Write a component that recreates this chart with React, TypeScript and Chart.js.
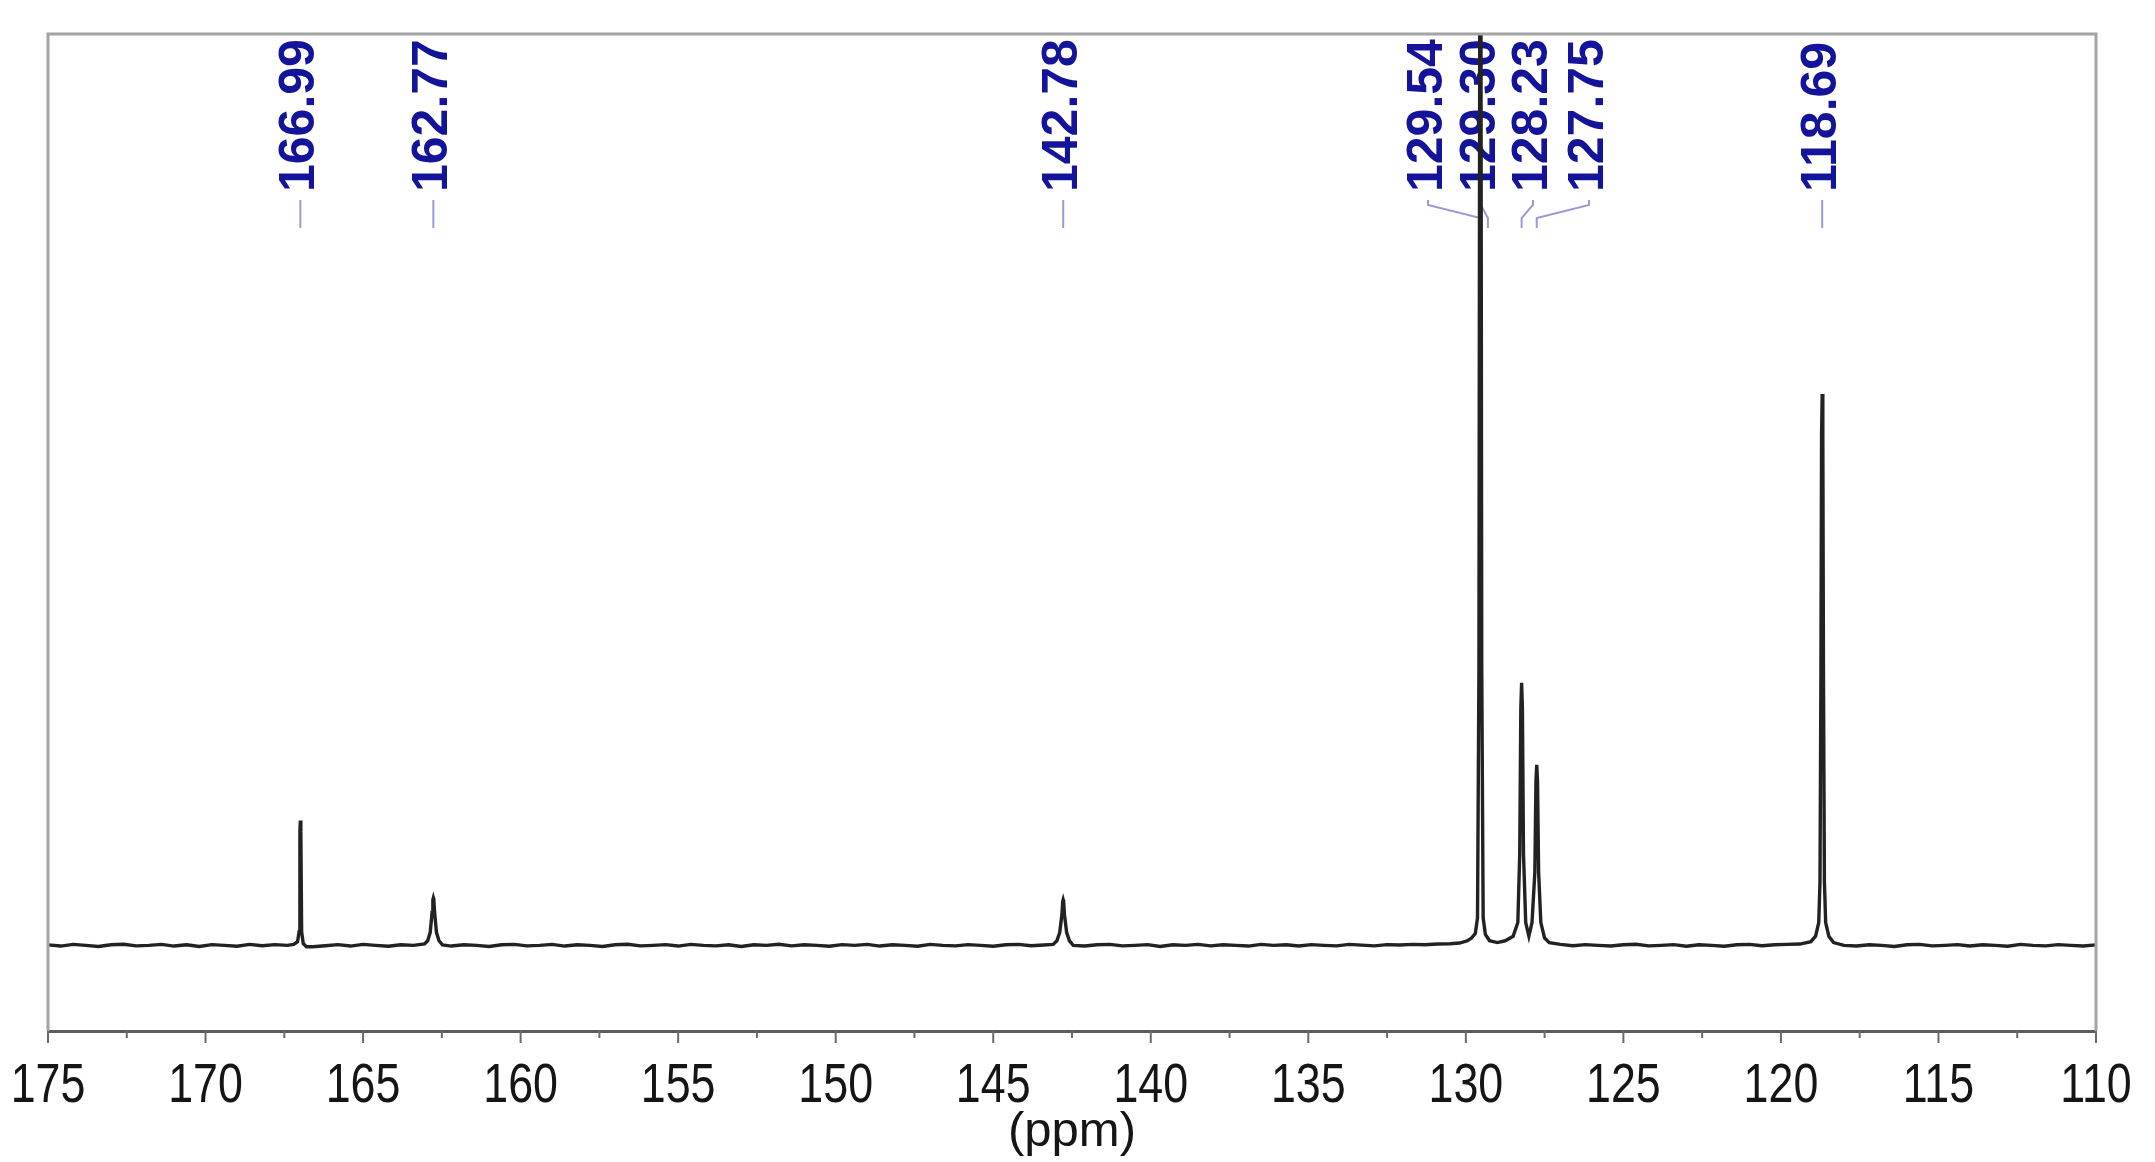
import React, { useEffect, useRef } from "react";
import { Chart, registerables } from "chart.js";

Chart.register(...registerables);

// ---- Data (ppm, intensity) ----
const baselinePoints: [number, number][] = [
  [175.0, 0.05], [174.6, -0.08], [174.2, 0.1], [173.8, 0.0], [173.4, -0.12], [173.0, 0.06],
  [172.6, 0.12], [172.2, -0.06], [171.8, 0.0], [171.4, 0.1], [171.0, -0.08], [170.6, 0.06],
  [170.2, -0.12], [169.8, 0.08], [169.4, 0.0], [169.0, -0.1], [168.6, 0.1], [168.2, -0.04],
  [167.8, 0.08], [167.4, 0.0],
  [166.6, -0.15], [166.2, -0.05], [165.8, 0.08], [165.4, -0.08], [165.0, 0.1], [164.6, 0.0],
  [164.2, -0.1], [163.8, 0.06], [163.4, 0.0],
  [162.2, -0.08], [161.8, 0.06], [161.4, 0.0], [161.0, -0.12], [160.6, 0.06], [160.2, 0.1],
  [159.8, -0.06], [159.4, 0.0], [159.0, 0.1], [158.6, -0.08], [158.2, 0.06], [157.8, 0.0],
  [157.4, -0.12], [157.0, 0.06], [156.6, 0.12], [156.2, -0.06], [155.8, 0.0], [155.4, 0.08],
  [155.0, -0.08], [154.6, 0.1], [154.2, 0.0], [153.8, -0.06], [153.4, 0.06], [153.0, -0.12],
  [152.6, 0.06], [152.2, 0.0], [151.8, 0.12], [151.4, -0.06], [151.0, 0.06], [150.6, 0.0],
  [150.2, -0.1], [149.8, 0.08], [149.4, 0.0], [149.0, 0.1], [148.6, -0.08], [148.2, 0.06],
  [147.8, 0.0], [147.4, -0.1], [147.0, 0.1], [146.6, 0.0], [146.2, -0.06], [145.8, 0.08],
  [145.4, 0.0], [145.0, -0.1], [144.6, 0.06], [144.2, 0.1], [143.8, -0.04], [143.4, 0.04],
  [142.1, -0.08], [141.7, 0.06], [141.3, 0.1], [140.9, -0.06], [140.5, 0.0], [140.1, 0.08],
  [139.7, -0.12], [139.3, 0.06], [138.9, 0.0], [138.5, 0.1], [138.1, -0.06], [137.7, 0.06],
  [137.3, 0.0], [136.9, -0.08], [136.5, 0.1], [136.1, 0.0], [135.7, 0.06], [135.3, -0.08],
  [134.9, 0.08], [134.5, 0.0], [134.1, -0.06], [133.7, 0.1], [133.3, 0.02], [132.9, -0.06],
  [132.5, 0.08], [132.1, 0.04], [131.7, 0.1], [131.3, 0.06], [130.9, 0.14], [130.5, 0.18],
  [130.2, 0.25],
  [127.0, 0.1], [126.6, -0.04], [126.2, 0.08], [125.8, 0.0], [125.4, -0.08], [125.0, 0.06],
  [124.6, 0.12], [124.2, -0.06], [123.8, 0.0], [123.4, 0.08], [123.0, -0.1], [122.6, 0.06],
  [122.2, 0.0], [121.8, -0.1], [121.4, 0.06], [121.0, 0.1], [120.6, -0.04], [120.2, 0.06],
  [119.8, 0.1], [119.4, 0.14],
  [118.0, 0.0], [117.6, -0.08], [117.2, 0.06], [116.8, 0.0], [116.4, -0.12], [116.0, 0.06],
  [115.6, 0.1], [115.2, -0.06], [114.8, 0.0], [114.4, 0.08], [114.0, -0.08], [113.6, 0.06],
  [113.2, 0.0], [112.8, -0.1], [112.4, 0.1], [112.0, 0.0], [111.6, -0.06], [111.2, 0.08],
  [110.8, 0.0], [110.4, -0.08], [110.0, 0.05],
];

const peak16699: [number, number][] = [
  [167.2, 0.1], [167.08, 0.4], [167.03, 1.5], [167.005, 12.5], [166.99, 13.7], [166.975, 12.5],
  [166.95, 1.5], [166.9, 0.2], [166.8, -0.15],
];
const peak16277: [number, number][] = [
  [163.05, 0.15], [162.95, 0.5], [162.87, 1.4], [162.81, 3.6], [162.785, 5.0], [162.77, 5.2],
  [162.755, 5.0], [162.73, 3.6], [162.67, 1.4], [162.59, 0.5], [162.48, 0.05],
];
const peak14278: [number, number][] = [
  [143.1, 0.1], [142.98, 0.5], [142.89, 1.4], [142.82, 3.4], [142.795, 4.8], [142.78, 5.0],
  [142.765, 4.8], [142.74, 3.4], [142.67, 1.4], [142.58, 0.5], [142.46, 0.0],
];
const peakCluster: [number, number][] = [
  [129.95, 0.5], [129.82, 0.8], [129.7, 1.3], [129.63, 3], [129.585, 30], [129.56, 100],
  [129.54, 115], [129.52, 100], [129.495, 30], [129.45, 3], [129.38, 1.2], [129.25, 0.5],
  [129.0, 0.3], [128.75, 0.5], [128.5, 1.0], [128.35, 2.5], [128.29, 10], [128.255, 26],
  [128.23, 28.8], [128.205, 26], [128.17, 10], [128.1, 2.5], [128.0, 1.0], [127.9, 2.5],
  [127.81, 8], [127.775, 18], [127.75, 19.8], [127.725, 18], [127.69, 8], [127.62, 2.5],
  [127.5, 0.8], [127.35, 0.3],
];
const peak11869: [number, number][] = [
  [119.05, 0.4], [118.9, 1.0], [118.8, 2.5], [118.76, 7], [118.73, 30], [118.71, 56],
  [118.69, 60.5], [118.67, 56], [118.65, 30], [118.62, 7], [118.58, 2.5], [118.48, 1.0],
  [118.33, 0.3],
];

const peakLabels = ["166.99", "162.77", "142.78", "129.54", "129.30", "128.23", "127.75", "118.69"];
const peakPpm = [166.99, 162.77, 142.78, 129.54, 129.3, 128.23, 127.75, 118.69];
const labelPpm = [166.99, 162.77, 142.78, 131.2, 129.52, 127.87, 126.09, 118.69];

const majorTicks = [175, 170, 165, 160, 155, 150, 145, 140, 135, 130, 125, 120, 115, 110];
const minorTicks = [172.5, 167.5, 162.5, 157.5, 152.5, 147.5, 142.5, 137.5, 132.5, 127.5, 122.5, 117.5, 112.5];

const spectrum = [
  ...baselinePoints, ...peak16699, ...peak16277, ...peak14278, ...peakCluster, ...peak11869,
]
  .sort((a, b) => b[0] - a[0])
  .map(([x, y]) => ({ x, y }));

const annotPlugin = {
  id: "nmrAnnot",
  beforeDatasetsDraw(chart: any) {
    const { ctx, chartArea } = chart;
    const xs = chart.scales.x;
    const top = chartArea.top;
    ctx.save();
    ctx.strokeStyle = "#9a9ad6";
    ctx.lineWidth = 2;
    peakPpm.forEach((p, i) => {
      const px = xs.getPixelForValue(p);
      const lx = xs.getPixelForValue(labelPpm[i]);
      ctx.beginPath();
      ctx.moveTo(lx, top + 166);
      ctx.lineTo(lx, top + 171);
      ctx.lineTo(px, top + 184);
      ctx.lineTo(px, top + 194);
      ctx.stroke();
    });
    ctx.fillStyle = "#14149a";
    ctx.font = 'bold 50px "Liberation Sans", Arial, sans-serif';
    ctx.textAlign = "left";
    ctx.textBaseline = "middle";
    peakLabels.forEach((t, i) => {
      const lx = xs.getPixelForValue(labelPpm[i]);
      ctx.save();
      ctx.translate(lx, top + 158);
      ctx.rotate(-Math.PI / 2);
      ctx.fillText(t, 0, 0);
      ctx.restore();
    });
    ctx.restore();
  },
  afterDraw(chart: any) {
    const { ctx, chartArea } = chart;
    const xs = chart.scales.x;
    const { left, right, top, bottom } = chartArea;
    ctx.save();
    // frame (left, top, right)
    ctx.strokeStyle = "#a4a4a4";
    ctx.lineWidth = 3;
    ctx.beginPath();
    ctx.moveTo(left, bottom);
    ctx.lineTo(left, top);
    ctx.lineTo(right, top);
    ctx.lineTo(right, bottom);
    ctx.stroke();
    // tick marks
    ctx.strokeStyle = "#6a6a6a";
    ctx.lineWidth = 2;
    majorTicks.forEach((v) => {
      const x = xs.getPixelForValue(v);
      ctx.beginPath();
      ctx.moveTo(x, bottom);
      ctx.lineTo(x, bottom + 12);
      ctx.stroke();
    });
    minorTicks.forEach((v) => {
      const x = xs.getPixelForValue(v);
      ctx.beginPath();
      ctx.moveTo(x, bottom);
      ctx.lineTo(x, bottom + 7);
      ctx.stroke();
    });
    // tick labels (condensed, like Arial Narrow)
    ctx.fillStyle = "#151515";
    ctx.font = '56px "Liberation Sans", Arial, sans-serif';
    ctx.textAlign = "center";
    ctx.textBaseline = "alphabetic";
    majorTicks.forEach((v) => {
      const x = xs.getPixelForValue(v);
      ctx.save();
      ctx.translate(x, bottom + 71);
      ctx.scale(0.8, 1);
      ctx.fillText(String(v), 0, 0);
      ctx.restore();
    });
    ctx.restore();
  },
};

export default function App() {
  const ref = useRef<HTMLCanvasElement>(null);
  useEffect(() => {
    document.body.style.margin = "0";
    const chart = new Chart(ref.current as HTMLCanvasElement, {
      type: "line",
      data: {
        datasets: [
          {
            data: spectrum,
            borderColor: "#222222",
            borderWidth: 3.4,
            pointRadius: 0,
            tension: 0,
            fill: false,
          },
        ],
      },
      options: {
        animation: false,
        responsive: false,
        devicePixelRatio: 1,
        layout: { padding: { left: 48, right: 59, top: 34, bottom: 0 } },
        plugins: { legend: { display: false }, tooltip: { enabled: false } },
        scales: {
          x: {
            type: "linear",
            reverse: true,
            min: 110,
            max: 175,
            afterFit: (s: any) => {
              s.height = 131;
              s.paddingLeft = 0;
              s.paddingRight = 0;
            },
            afterBuildTicks: (s: any) => {
              s.ticks = majorTicks.map((v) => ({ value: v }));
            },
            grid: { display: false, drawTicks: false },
            border: { display: true, color: "#5c5c5c", width: 3 },
            ticks: { display: false },
            title: {
              display: true,
              text: "(ppm)",
              color: "#151515",
              font: { family: '"Liberation Sans", Arial, sans-serif', size: 49, lineHeight: 1.2 },
              padding: { top: 0, bottom: 0 },
            },
          },
          y: { display: false, min: -9.4, max: 100 },
        },
      },
      plugins: [annotPlugin],
    } as any);
    return () => chart.destroy();
  }, []);
  return (
    <div style={{ width: 2155, height: 1162, background: "#fff" }}>
      <canvas ref={ref} width={2155} height={1162} style={{ display: "block" }} />
    </div>
  );
}
